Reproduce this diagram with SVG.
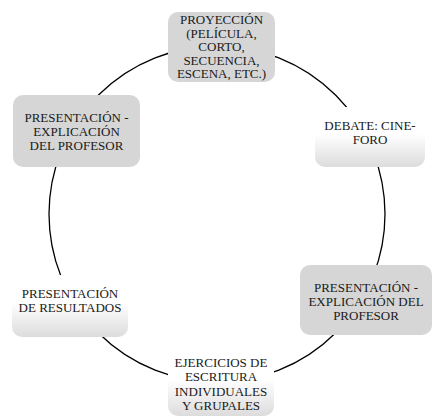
<svg xmlns="http://www.w3.org/2000/svg" width="433" height="416" viewBox="0 0 433 416">
<defs>
<linearGradient id="fade" x1="0" y1="0" x2="0" y2="1">
<stop offset="0" stop-color="#ffffff"/>
<stop offset="0.45" stop-color="#ffffff"/>
<stop offset="1" stop-color="#dcdcdc"/>
</linearGradient>
</defs>
<style>
.gray{fill:#d6d6d6;stroke:none}
.fade{fill:url(#fade);stroke:none}
.t{font-size:13px;fill:#1a1a1a;text-anchor:middle}
.ring{fill:none;stroke:#000;stroke-width:1.3}
</style>
<g id="connectors">
<circle class="ring" cx="217" cy="214" r="168"/>
</g>
<g font-family="'Liberation Serif', 'DejaVu Serif', serif">
<g id="n1">
<rect class="gray" x="168" y="12" width="107" height="70" rx="10"/>
<text class="t" x="221.5" y="24">PROYECCIÓN</text>
<text class="t" x="221.5" y="37.5">(PELÍCULA,</text>
<text class="t" x="221.5" y="51">CORTO,</text>
<text class="t" x="221.5" y="64.5">SECUENCIA,</text>
<text class="t" x="221.5" y="78">ESCENA, ETC.)</text>
</g>
<g id="n2">
<rect class="fade" x="315" y="107" width="110" height="60" rx="10"/>
<text class="t" x="370" y="130">DEBATE: CINE-</text>
<text class="t" x="370" y="144">FORO</text>
</g>
<g id="n3">
<rect class="gray" x="300" y="265" width="132" height="70" rx="10"/>
<text class="t" x="366" y="292">PRESENTACIÓN -</text>
<text class="t" x="366" y="306">EXPLICACIÓN DEL</text>
<text class="t" x="366" y="320">PROFESOR</text>
</g>
<g id="n4">
<rect class="fade" x="168" y="350" width="106" height="66" rx="10"/>
<text class="t" x="221" y="367">EJERCICIOS DE</text>
<text class="t" x="221" y="381">ESCRITURA</text>
<text class="t" x="221" y="395.5">INDIVIDUALES</text>
<text class="t" x="221" y="410">Y GRUPALES</text>
</g>
<g id="n5">
<rect class="fade" x="12" y="275" width="116" height="62" rx="10"/>
<text class="t" x="70" y="298">PRESENTACIÓN</text>
<text class="t" x="70" y="312">DE RESULTADOS</text>
</g>
<g id="n6">
<rect class="gray" x="13" y="95" width="127" height="72" rx="10"/>
<text class="t" x="76.5" y="122">PRESENTACIÓN -</text>
<text class="t" x="76.5" y="136">EXPLICACIÓN</text>
<text class="t" x="76.5" y="150">DEL PROFESOR</text>
</g>
</g>
</svg>
